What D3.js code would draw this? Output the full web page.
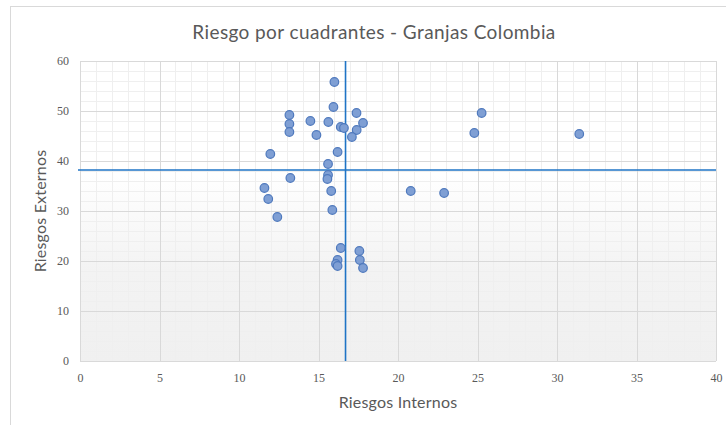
<!DOCTYPE html>
<meta charset="utf-8">
<style>
body, html {
  margin: 0;
  background: #fff;
}
.title {
  font-family: Lato, "Open Sans", sans-serif;
  font-size: 19px;
  letter-spacing: 0.4px;
  fill: #595959;
}
.axis-title {
  font-family: Lato, "Open Sans", sans-serif;
  font-size: 16px;
  letter-spacing: 0.2px;
  fill: #595959;
}
.tick text {
  font-family: "Liberation Serif", serif;
  font-size: 12px;
  fill: #595959;
}
.dot {
  fill: #7f9fd4;
  stroke: #4f79bd;
  stroke-width: 1.2px;
}
</style>
<svg></svg>
<script src="https://d3js.org/d3.v7.min.js"></script>
<script>

// valores
var riesgosInternos = [16.0, 15.94, 13.17, 17.39, 13.17, 14.49, 15.62, 13.17, 14.87, 16.4,
  16.6, 17.4, 17.8, 17.1, 11.97, 16.2, 15.6, 13.23, 15.6, 15.56,
  11.6, 11.84, 15.8, 12.41, 15.87, 16.4, 17.57, 16.2, 16.1, 16.2,
  17.6, 17.8, 20.8, 22.9, 25.26, 24.8, 31.4];
var riesgosExternos = [55.8, 50.8, 49.2, 49.6, 47.4, 48.0, 47.8, 45.8, 45.2, 46.8,
  46.6, 46.2, 47.6, 44.8, 41.4, 41.8, 39.4, 36.6, 37.2, 36.4,
  34.6, 32.4, 34.0, 28.8, 30.2, 22.6, 22.0, 20.2, 19.4, 19.0,
  20.2, 18.6, 34.0, 33.6, 49.6, 45.6, 45.4];

var xTicks = [0, 5, 10, 15, 20, 25, 30, 35, 40];
var yTicks = [0, 10, 20, 30, 40, 50, 60];

// lineas de cuadrante (promedios)
var corteInterno = 16.7;
var corteExterno = 38.2;

var W = 726, H = 425;
var margin = {top: 61, right: 10, bottom: 64, left: 80};
var width = 716 - margin.left;
var height = 361 - margin.top;

var svg = d3.select('svg')
  .attr('width', W)
  .attr('height', H);

// marco del grafico
svg.append('rect')
  .attr('x', 10.5).attr('y', 6.5)
  .attr('width', W + 20).attr('height', H + 20)
  .attr('fill', '#fff')
  .attr('stroke', '#d9d9d9');

var defs = svg.append('defs');
var grad = defs.append('linearGradient')
  .attr('id', 'fondo')
  .attr('x1', 0).attr('y1', 0).attr('x2', 0).attr('y2', 1);
grad.append('stop').attr('offset', '0%').attr('stop-color', '#ffffff');
grad.append('stop').attr('offset', '38%').attr('stop-color', '#ffffff');
grad.append('stop').attr('offset', '70%').attr('stop-color', '#f3f3f3');
grad.append('stop').attr('offset', '100%').attr('stop-color', '#f0f0f0');

var x = d3.scaleLinear().domain([0, 40]).range([0, width]);
var y = d3.scaleLinear().domain([0, 60]).range([height, 0]);

var g = svg.append('g')
  .attr('transform', 'translate(' + margin.left + ',' + margin.top + ')');

g.append('rect')
  .attr('width', width).attr('height', height)
  .attr('fill', 'url(#fondo)');

// rejilla menor
g.append('g')
  .selectAll('line')
  .data(d3.range(0, 41, 1))
  .enter().append('line')
  .attr('x1', d => Math.round(x(d)) + 0.5).attr('x2', d => Math.round(x(d)) + 0.5)
  .attr('y1', 0).attr('y2', height)
  .attr('stroke', '#efefef');
g.append('g')
  .selectAll('line')
  .data(d3.range(0, 61, 2))
  .enter().append('line')
  .attr('y1', d => Math.round(y(d)) + 0.5).attr('y2', d => Math.round(y(d)) + 0.5)
  .attr('x1', 0).attr('x2', width)
  .attr('stroke', '#efefef');

// rejilla mayor
g.append('g')
  .selectAll('line')
  .data(xTicks)
  .enter().append('line')
  .attr('x1', d => Math.round(x(d)) + 0.5).attr('x2', d => Math.round(x(d)) + 0.5)
  .attr('y1', 0).attr('y2', height)
  .attr('stroke', '#d9d9d9');
g.append('g')
  .selectAll('line')
  .data(yTicks)
  .enter().append('line')
  .attr('y1', d => Math.round(y(d)) + 0.5).attr('y2', d => Math.round(y(d)) + 0.5)
  .attr('x1', 0).attr('x2', width)
  .attr('stroke', '#d9d9d9');

// ejes
var xAxis = g.append('g')
  .attr('transform', 'translate(0,' + height + ')')
  .call(d3.axisBottom(x).tickValues(xTicks).tickSize(0).tickPadding(12));
xAxis.select('.domain').remove();

var yAxis = g.append('g')
  .call(d3.axisLeft(y).tickValues(yTicks).tickSize(0).tickPadding(11));
yAxis.select('.domain').remove();

// lineas de cuadrante
g.append('line')
  .attr('x1', x(corteInterno)).attr('x2', x(corteInterno))
  .attr('y1', 0).attr('y2', height)
  .attr('stroke', '#1f74c6').attr('stroke-width', 1.6);
g.append('line')
  .attr('x1', 0 - 2).attr('x2', width)
  .attr('y1', y(corteExterno)).attr('y2', y(corteExterno))
  .attr('stroke', '#1f74c6').attr('stroke-width', 1.6);

// puntos
var puntos = riesgosInternos.map(function (v, i) { return [v, riesgosExternos[i]]; });
g.append('g')
  .selectAll('circle')
  .data(puntos)
  .enter().append('circle')
  .attr('class', 'dot')
  .attr('cx', d => x(d[0]))
  .attr('cy', d => y(d[1]))
  .attr('r', 4.3);

// textos
svg.append('text')
  .attr('class', 'title')
  .attr('x', 374).attr('y', 39)
  .attr('text-anchor', 'middle')
  .text('Riesgo por cuadrantes - Granjas Colombia');

svg.append('text')
  .attr('class', 'axis-title')
  .attr('x', margin.left + width / 2).attr('y', 408)
  .attr('text-anchor', 'middle')
  .text('Riesgos Internos');

svg.append('text')
  .attr('class', 'axis-title')
  .attr('transform', 'translate(46,' + (margin.top + height / 2) + ') rotate(-90)')
  .attr('text-anchor', 'middle')
  .text('Riesgos Externos');

</script>
